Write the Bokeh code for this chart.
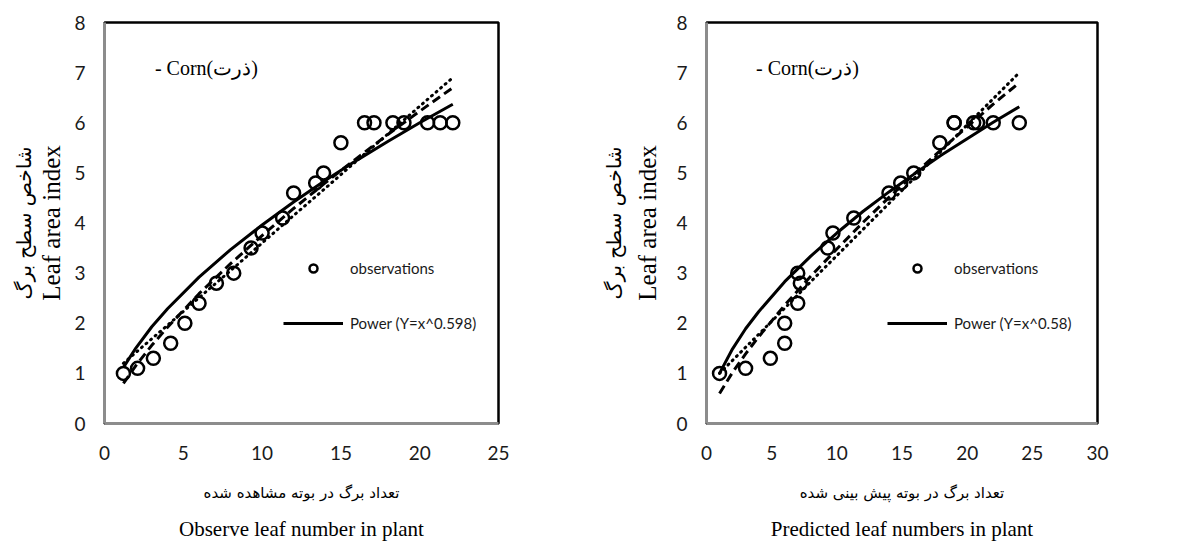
from bokeh.plotting import figure
from bokeh.models import Range1d, LinearAxis, FixedTicker, Legend, LegendItem, Label
from bokeh.layouts import row
from bokeh.embed import file_html
from bokeh.resources import INLINE

# ---------------- data ----------------
obs_left = [1.2, 2.1, 3.1, 4.2, 5.1, 6.0, 7.1, 8.2, 9.3, 10.0, 11.3, 12.0, 13.4, 13.9,
            15.0, 16.5, 17.1, 18.3, 19.0, 20.5, 21.3, 22.1]
lai_left = [1.0, 1.1, 1.3, 1.6, 2.0, 2.4, 2.8, 3.0, 3.5, 3.8, 4.1, 4.6, 4.8, 5.0,
            5.6, 6.0, 6.0, 6.0, 6.0, 6.0, 6.0, 6.0]

pred_right = [1.0, 3.0, 4.9, 6.0, 6.0, 7.0, 7.2, 7.0, 9.3, 9.7, 11.3, 14.0, 14.9, 15.9,
              17.9, 19.0, 19.0, 20.5, 20.8, 22.0, 24.0]
lai_right = [1.0, 1.1, 1.3, 1.6, 2.0, 2.4, 2.8, 3.0, 3.5, 3.8, 4.1, 4.6, 4.8, 5.0,
             5.6, 6.0, 6.0, 6.0, 6.0, 6.0, 6.0]

# trend lines
curve_x_left = [1.2, 2, 3, 4, 6, 8, 10, 12, 14, 16, 18, 20, 22.1]
power_left = [1.12, 1.51, 1.93, 2.29, 2.92, 3.47, 3.96, 4.42, 4.85, 5.25, 5.63, 6.00, 6.37]
dash_left = [0.80, 1.16, 1.56, 1.92, 2.59, 3.19, 3.75, 4.29, 4.80, 5.29, 5.77, 6.23, 6.70]
dot_left = [1.20, 1.42, 1.69, 1.96, 2.51, 3.05, 3.60, 4.15, 4.69, 5.24, 5.78, 6.33, 6.90]

curve_x_right = [1, 2, 3, 4, 6, 8, 10, 12, 14, 16, 18, 20, 22, 24]
power_right = [1.00, 1.49, 1.89, 2.23, 2.83, 3.34, 3.80, 4.23, 4.62, 4.99, 5.35, 5.68, 6.01, 6.32]
dash_right = [0.60, 1.02, 1.39, 1.73, 2.36, 2.94, 3.48, 4.01, 4.51, 4.99, 5.46, 5.92, 6.37, 6.80]
dot_right = [1.00, 1.26, 1.52, 1.78, 2.30, 2.83, 3.35, 3.87, 4.39, 4.91, 5.43, 5.96, 6.48, 7.00]

y_ticks = [0, 1, 2, 3, 4, 5, 6, 7, 8]
x_ticks_left = [0, 5, 10, 15, 20, 25]
x_ticks_right = [0, 5, 10, 15, 20, 25, 30]

ylabel_en = "Leaf area index"
ylabel_fa = "شاخص سطح برگ"
xlabel_fa_left = "تعداد برگ در بوته مشاهده شده"
xlabel_en_left = "Observe leaf number in plant"
xlabel_fa_right = "تعداد برگ در بوته پیش بینی شده"
xlabel_en_right = "Predicted leaf numbers in plant"
crop_text = "- Corn(ذرت)"
power_left_label = "Power (Y=x^0.598)"
power_right_label = "Power (Y=x^0.58)"

TICK_FONT = "Lato"
SERIF = "Liberation Serif"
FA_FONT = "DejaVu Sans"


def make_chart(width, bl, br, xmax, xticks, xs, ys, cx, pw, da, do, fa_x, en_x,
               power_label, crop_x, leg_x, en_y_standoff, fa_y_standoff):
    p = figure(width=width, height=547, x_range=Range1d(0, xmax), y_range=Range1d(0, 8),
               output_backend="svg", toolbar_location=None,
               min_border_left=bl, min_border_right=br, min_border_top=22,
               min_border_bottom=124)
    p.grid.visible = False
    p.background_fill_color = "white"
    p.border_fill_color = "white"
    p.outline_line_color = "black"
    p.outline_line_width = 2.5

    for ax in (p.xaxis[0], p.yaxis[0]):
        ax.major_tick_out = 0
        ax.major_tick_in = 0
        ax.minor_tick_out = 0
        ax.minor_tick_in = 0
        ax.axis_line_color = "#8c8c8c"
        ax.axis_line_width = 3
        ax.major_label_text_font = TICK_FONT
        ax.major_label_text_font_size = "19px"
        ax.major_label_text_color = "#1a1a1a"
        ax.axis_label_text_font_style = "normal"
        ax.axis_label_text_color = "black"

    p.xaxis[0].major_label_standoff = 22
    p.yaxis[0].major_label_standoff = 19
    p.xaxis[0].ticker = FixedTicker(ticks=xticks)
    p.yaxis[0].ticker = FixedTicker(ticks=y_ticks)

    p.xaxis[0].axis_label = fa_x
    p.xaxis[0].axis_label_text_font = FA_FONT
    p.xaxis[0].axis_label_text_font_size = "15px"
    p.xaxis[0].axis_label_standoff = 21

    p.yaxis[0].axis_label = ylabel_en
    p.yaxis[0].axis_label_text_font = SERIF
    p.yaxis[0].axis_label_text_font_size = "25px"
    p.yaxis[0].axis_label_standoff = en_y_standoff

    ex = LinearAxis(ticker=FixedTicker(ticks=[]), axis_label=en_x,
                    axis_line_color=None, major_tick_out=0, major_tick_in=0,
                    minor_tick_out=0, minor_tick_in=0, major_label_standoff=0,
                    axis_label_standoff=12, axis_label_text_font=SERIF,
                    axis_label_text_font_size="21px", axis_label_text_font_style="normal",
                    axis_label_text_color="black")
    p.add_layout(ex, "below")

    ey = LinearAxis(ticker=FixedTicker(ticks=[]), axis_label=ylabel_fa,
                    axis_line_color=None, major_tick_out=0, major_tick_in=0,
                    minor_tick_out=0, minor_tick_in=0, major_label_standoff=0,
                    axis_label_standoff=fa_y_standoff, axis_label_text_font=FA_FONT,
                    axis_label_text_font_size="20px", axis_label_text_font_style="normal",
                    axis_label_text_color="black")
    p.add_layout(ey, "left")

    r_dot = p.line(cx, do, line_color="black", line_width=3, line_dash="1 5",
                   line_cap="round")
    r_dash = p.line(cx, da, line_color="black", line_width=3, line_dash="9 5")
    r_pow = p.line(cx, pw, line_color="black", line_width=3)
    r_obs = p.scatter(xs, ys, marker="circle", size=13, fill_color=None,
                      line_color="black", line_width=2.5)

    legend = Legend(items=[LegendItem(label="observations", renderers=[r_obs]),
                           LegendItem(label=power_label, renderers=[r_pow])],
                    location=(leg_x, 90), orientation="vertical",
                    glyph_width=60, glyph_height=20, label_height=20, spacing=35,
                    padding=0, margin=0, label_standoff=7,
                    label_text_font=TICK_FONT, label_text_font_size="15px",
                    label_text_color="#1a1a1a",
                    border_line_color=None, background_fill_alpha=0)
    p.add_layout(legend, "center")

    p.add_layout(Label(x=crop_x, y=7.1, text=crop_text, text_font=SERIF,
                       text_font_size="20px", text_baseline="middle",
                       text_align="left", text_color="black"))
    return p


left = make_chart(590, 104, 92, 25, x_ticks_left, obs_left, lai_left, curve_x_left,
                  power_left, dash_left, dot_left, xlabel_fa_left, xlabel_en_left,
                  power_left_label, 3.2, 179, 6, 0)
right = make_chart(589, 116, 82, 30, x_ticks_right, pred_right, lai_right, curve_x_right,
                   power_right, dash_right, dot_right, xlabel_fa_right, xlabel_en_right,
                   power_right_label, 3.8, 181, 12, 6)

layout = row(left, right, spacing=0)
open("out.html", "w").write(file_html(layout, INLINE))
